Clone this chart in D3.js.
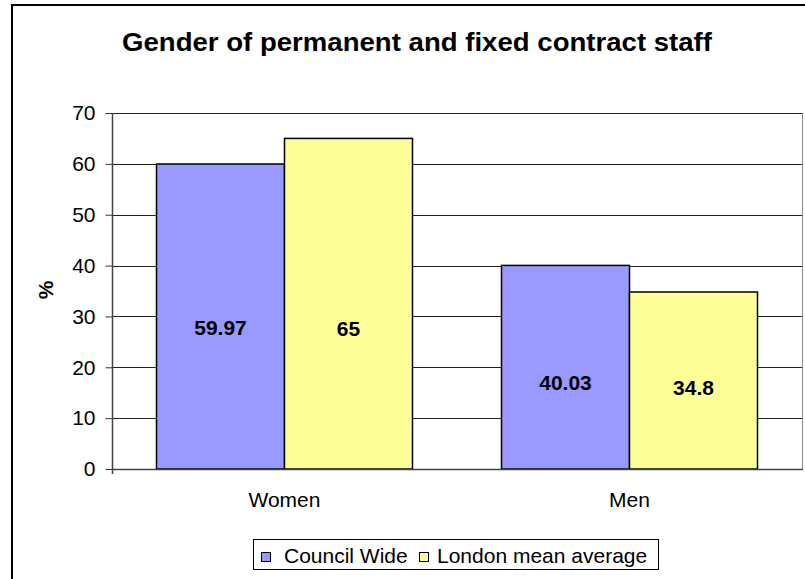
<!DOCTYPE html>
<html>
<head>
<meta charset="utf-8">
<script src="https://cdn.jsdelivr.net/npm/d3@7"></script>
<style>
  html, body { margin: 0; padding: 0; background: #fff; }
  svg { display: block; font-family: "Liberation Sans", Arial, sans-serif; }
</style>
</head>
<body>
<svg id="chart" width="805" height="579"></svg>
<script>
// Chart data
const title = "Gender of permanent and fixed contract staff";
const categories = ["Women", "Men"];
const seriesNames = ["Council Wide", "London mean average"];
const councilWide = [59.97, 40.03];
const londonMean = [65, 34.8];
const seriesColors = ["#9999FF", "#FFFF99"];
const yTicks = [0, 10, 20, 30, 40, 50, 60, 70];

const svg = d3.select("#chart");

// Outer chart frame
svg.append("path")
  .attr("d", "M12,579 V5 H805")
  .attr("fill", "none")
  .attr("stroke", "#000")
  .attr("stroke-width", 2);

// Plot area
const plot = { left: 112, right: 802, top: 113, bottom: 469 };

const x0 = d3.scaleBand()
  .domain(categories)
  .range([plot.left, plot.right])
  .paddingInner(0.258)
  .paddingOuter(0.129);

const x1 = d3.scaleBand()
  .domain(seriesNames)
  .range([0, x0.bandwidth()]);

const y = d3.scaleLinear()
  .domain([0, 70])
  .range([plot.bottom, plot.top]);

// Gridlines
svg.append("g")
  .selectAll("line")
  .data(yTicks.filter(d => d > 0))
  .join("line")
  .attr("x1", plot.left)
  .attr("x2", plot.right)
  .attr("y1", d => Math.round(y(d)) + 0.5)
  .attr("y2", d => Math.round(y(d)) + 0.5)
  .attr("stroke", "#222")
  .attr("stroke-width", 1);

// Right border of plot area
svg.append("line")
  .attr("x1", plot.right + 0.5).attr("x2", plot.right + 0.5)
  .attr("y1", plot.top).attr("y2", plot.bottom)
  .attr("stroke", "#888").attr("stroke-width", 1);

// Bars
const rows = categories.map((c, i) => ({
  category: c,
  values: [
    { series: seriesNames[0], value: councilWide[i], color: seriesColors[0] },
    { series: seriesNames[1], value: londonMean[i], color: seriesColors[1] }
  ]
}));

const groups = svg.append("g")
  .selectAll("g")
  .data(rows)
  .join("g")
  .attr("transform", d => `translate(${x0(d.category)},0)`);

groups.selectAll("rect")
  .data(d => d.values)
  .join("rect")
  .attr("x", d => x1(d.series))
  .attr("y", d => y(d.value))
  .attr("width", x1.bandwidth())
  .attr("height", d => y(0) - y(d.value))
  .attr("fill", d => d.color)
  .attr("stroke", "#000")
  .attr("stroke-width", 1.5);

// Value labels placed inside the bars
const labelShift = [[0.462, 0.426], [0.425, 0.46]];
groups.each(function (d, gi) {
  d3.select(this).selectAll("text.val")
    .data(d.values)
    .join("text")
    .attr("class", "val")
    .attr("x", v => x1(v.series) + x1.bandwidth() / 2)
    .attr("y", (v, si) => y(v.value * labelShift[gi][si]))
    .attr("dy", "0.35em")
    .attr("text-anchor", "middle")
    .attr("font-size", 21)
    .attr("font-weight", "bold")
    .text(v => v.value);
});

// Y axis
const yAxis = d3.axisLeft(y)
  .tickValues(yTicks)
  .tickSize(7)
  .tickPadding(10)
  .tickFormat(d3.format("d"));

const gy = svg.append("g")
  .attr("transform", `translate(${plot.left + 0.5},0)`)
  .call(yAxis);
gy.select(".domain").attr("stroke", "#444").attr("stroke-width", 1.5)
  .attr("d", `M0,${plot.top}V${plot.bottom + 5}`);
gy.selectAll(".tick line").attr("stroke", "#333");
gy.selectAll(".tick text")
  .attr("font-size", 21)
  .attr("font-family", "Liberation Sans, Arial, sans-serif")
  .attr("fill", "#000");

// X axis baseline
svg.append("line")
  .attr("x1", plot.left).attr("x2", plot.right + 1)
  .attr("y1", plot.bottom + 0.5).attr("y2", plot.bottom + 0.5)
  .attr("stroke", "#444").attr("stroke-width", 1.5);

// Category labels
svg.append("g")
  .selectAll("text")
  .data(categories)
  .join("text")
  .attr("x", d => x0(d) + x0.bandwidth() / 2)
  .attr("y", 500)
  .attr("dy", "0.35em")
  .attr("text-anchor", "middle")
  .attr("font-size", 21)
  .text(d => d);

// Y axis title
svg.append("text")
  .attr("transform", "translate(46,290) rotate(-90)")
  .attr("text-anchor", "middle")
  .attr("dy", "0.35em")
  .attr("font-size", 21)
  .attr("font-weight", "bold")
  .text("%");

// Chart title
svg.append("text")
  .attr("x", 417)
  .attr("y", 42)
  .attr("dy", "0.35em")
  .attr("text-anchor", "middle")
  .attr("font-size", 26)
  .attr("font-weight", "bold")
  .attr("textLength", 590)
  .attr("lengthAdjust", "spacingAndGlyphs")
  .text(title);

// Legend
const legend = svg.append("g");
legend.append("rect")
  .attr("x", 253.5).attr("y", 539.5)
  .attr("width", 405).attr("height", 30)
  .attr("fill", "#fff")
  .attr("stroke", "#000")
  .attr("stroke-width", 1);

const legendItems = [
  { name: seriesNames[0], color: seriesColors[0], sx: 261, tx: 284 },
  { name: seriesNames[1], color: seriesColors[1], sx: 419, tx: 437 }
];
legend.selectAll("rect.key")
  .data(legendItems)
  .join("rect")
  .attr("class", "key")
  .attr("x", d => d.sx + 0.5).attr("y", 552.5)
  .attr("width", 9).attr("height", 9)
  .attr("fill", d => d.color)
  .attr("stroke", "#000");
legend.selectAll("text")
  .data(legendItems)
  .join("text")
  .attr("x", d => d.tx)
  .attr("y", 556)
  .attr("dy", "0.35em")
  .attr("font-size", 21)
  .text(d => d.name);
</script>
</body>
</html>
